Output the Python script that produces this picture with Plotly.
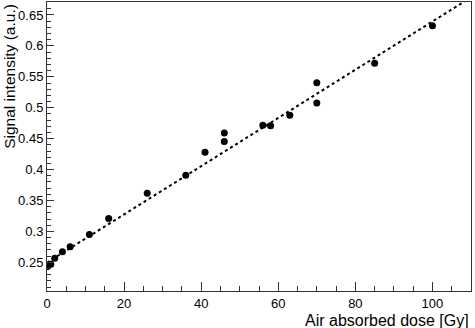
import numpy as np
import plotly.graph_objects as go

# dose [Gy] and measured signal (a.u.)
dose = [0, 1, 2, 4, 6, 11, 16, 26, 36, 41, 46, 46, 56, 58, 63, 70, 70, 85, 100]
signal = [0.243, 0.247, 0.2565, 0.267, 0.275, 0.295, 0.321, 0.3615, 0.391, 0.428,
          0.459, 0.4455, 0.4715, 0.471, 0.488, 0.5405, 0.5075, 0.572, 0.6325]

# linear fit
fit_slope = 0.0039
fit_intercept = 0.2495
fit_x = np.array([0, 110])
fit_y = fit_slope * fit_x + fit_intercept

font = "Liberation Sans, Arial, Helvetica, sans-serif"

fig = go.Figure()
fig.add_trace(go.Scatter(
    x=fit_x, y=fit_y, mode="lines",
    line=dict(color="black", width=2, dash="3px,3px"),
    hoverinfo="skip", showlegend=False,
))
fig.add_trace(go.Scatter(
    x=dose, y=signal, mode="markers",
    marker=dict(color="black", size=7),
    showlegend=False,
))

fig.update_layout(
    width=475, height=328,
    margin=dict(l=47, r=4, t=2, b=37),
    paper_bgcolor="white", plot_bgcolor="white",
    font=dict(family=font, size=13, color="black"),
    xaxis=dict(
        range=[0, 110], dtick=20, tick0=0,
        showgrid=False, zeroline=False,
        showline=True, linecolor="#333", linewidth=1, mirror=True,
        ticks="inside", ticklen=9, tickcolor="#333",
        minor=dict(dtick=5, ticks="inside", ticklen=5, tickcolor="#333"),
    ),
    yaxis=dict(
        range=[0.2036, 0.671], dtick=0.05, tick0=0.25,
        showgrid=False, zeroline=False,
        showline=True, linecolor="#333", linewidth=1, mirror=True,
        ticks="inside", ticklen=7, tickcolor="#333",
        minor=dict(dtick=0.01, ticks="inside", ticklen=4, tickcolor="#333"),
    ),
    annotations=[
        dict(text="Air absorbed dose [Gy]", xref="paper", yref="paper",
             x=1.0, y=-0.065, xanchor="right", yanchor="top",
             showarrow=False, font=dict(size=16)),
        dict(text="Signal intensity (a.u.)", xref="paper", yref="paper",
             x=-0.064, y=1.0, xanchor="right", yanchor="top", textangle=-90,
             showarrow=False, font=dict(size=15.5)),
    ],
)

# page has a default 8px body margin; drop it so the figure sits at 0,0
fig.write_html("out.html", config={"displayModeBar": False},
               post_script="document.body.style.margin='0';")
